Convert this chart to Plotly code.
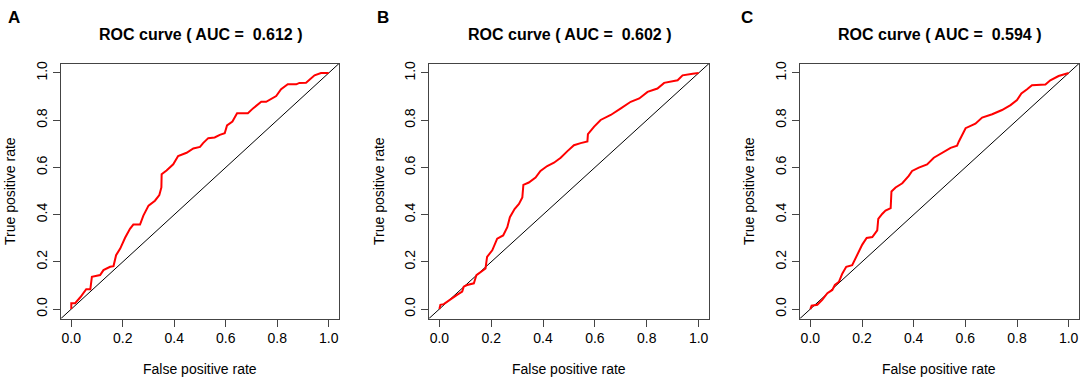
import plotly.graph_objects as go

panel_labels = ["A", "B", "C"]
auc_values = ["0.612", "0.602", "0.594"]

fpr_a = [0, 0, 0.015, 0.035, 0.058, 0.074, 0.08, 0.093, 0.112, 0.125, 0.151, 0.164, 0.174, 0.19, 0.209,
         0.228, 0.241, 0.267, 0.28, 0.3, 0.325, 0.342, 0.35, 0.351, 0.37, 0.396, 0.415, 0.448, 0.474, 0.5,
         0.512, 0.532, 0.557, 0.577, 0.596, 0.605, 0.626, 0.644, 0.686, 0.706, 0.738, 0.757, 0.777, 0.796,
         0.815, 0.841, 0.874, 0.886, 0.912, 0.932, 0.945, 0.97, 1.0]
tpr_a = [0, 0.025, 0.025, 0.05, 0.084, 0.084, 0.137, 0.14, 0.144, 0.165, 0.179, 0.182, 0.228, 0.256, 0.302,
         0.34, 0.358, 0.358, 0.396, 0.438, 0.459, 0.483, 0.515, 0.571, 0.587, 0.613, 0.648, 0.662, 0.68, 0.687,
         0.703, 0.724, 0.727, 0.738, 0.745, 0.778, 0.794, 0.829, 0.829, 0.85, 0.878, 0.878, 0.892, 0.902,
         0.931, 0.952, 0.952, 0.958, 0.959, 0.976, 0.99, 1.0, 1.0]

fpr_b = [0, 0.004, 0.017, 0.043, 0.068, 0.088, 0.094, 0.107, 0.133, 0.143, 0.159, 0.178, 0.184, 0.204, 0.223,
         0.246, 0.262, 0.272, 0.29, 0.307, 0.32, 0.324, 0.345, 0.371, 0.39, 0.416, 0.442, 0.468, 0.494, 0.519,
         0.545, 0.571, 0.573, 0.597, 0.622, 0.661, 0.7, 0.738, 0.771, 0.803, 0.841, 0.867, 0.919, 0.938, 0.977, 1.0]
tpr_b = [0, 0.018, 0.021, 0.039, 0.06, 0.074, 0.095, 0.102, 0.109, 0.144, 0.158, 0.172, 0.221, 0.249, 0.298,
         0.312, 0.347, 0.389, 0.424, 0.445, 0.473, 0.526, 0.536, 0.557, 0.585, 0.606, 0.62, 0.641, 0.669, 0.694,
         0.703, 0.71, 0.741, 0.773, 0.801, 0.822, 0.85, 0.878, 0.892, 0.92, 0.934, 0.958, 0.969, 0.99, 0.997, 1.0]

fpr_c = [0, 0.005, 0.027, 0.046, 0.066, 0.085, 0.095, 0.111, 0.124, 0.139, 0.162, 0.175, 0.188, 0.201, 0.218,
         0.24, 0.259, 0.263, 0.278, 0.291, 0.311, 0.314, 0.33, 0.356, 0.381, 0.394, 0.42, 0.452, 0.478, 0.51,
         0.543, 0.568, 0.575, 0.601, 0.639, 0.665, 0.704, 0.742, 0.775, 0.8, 0.817, 0.839, 0.858, 0.91, 0.929,
         0.961, 1.0]
tpr_c = [0, 0.014, 0.018, 0.039, 0.067, 0.081, 0.102, 0.116, 0.151, 0.179, 0.186, 0.214, 0.249, 0.273, 0.301,
         0.305, 0.333, 0.382, 0.403, 0.417, 0.428, 0.498, 0.515, 0.533, 0.564, 0.585, 0.599, 0.613, 0.641, 0.662,
         0.683, 0.692, 0.71, 0.766, 0.785, 0.811, 0.825, 0.843, 0.864, 0.885, 0.913, 0.931, 0.948, 0.951, 0.969,
         0.987, 1.0]

tick_vals = [0.0, 0.2, 0.4, 0.6, 0.8, 1.0]
tick_text = ["0.0", "0.2", "0.4", "0.6", "0.8", "1.0"]
axis_range = [-0.04, 1.04]

W, H = 1084, 384
boxes_px = [(61, 339), (429, 709), (800, 1079)]
box_top, box_bottom = 61, 318

FONT = "Liberation Sans, Arial, sans-serif"
AX_COLOR = "#444444"

fig = go.Figure()
curves = [(fpr_a, tpr_a), (fpr_b, tpr_b), (fpr_c, tpr_c)]
layout = {}
annotations = []
ylab_x = [10, 379, 749]
letter_x = [14, 383, 747]

for i, ((fx, ty), (l, r)) in enumerate(zip(curves, boxes_px)):
    xa = "x" if i == 0 else f"x{i+1}"
    ya = "y" if i == 0 else f"y{i+1}"
    fig.add_trace(go.Scatter(x=axis_range, y=axis_range, mode="lines",
                             line=dict(color="black", width=1), xaxis=xa, yaxis=ya,
                             showlegend=False, hoverinfo="skip"))
    fig.add_trace(go.Scatter(x=fx, y=ty, mode="lines",
                             line=dict(color="#ff0000", width=2), xaxis=xa, yaxis=ya,
                             showlegend=False))
    common = dict(range=axis_range, showgrid=False, zeroline=False, showline=True, mirror=True,
                  linecolor=AX_COLOR, linewidth=1, ticks="outside", ticklen=7, tickwidth=1,
                  tickcolor=AX_COLOR, tickvals=tick_vals, ticktext=tick_text,
                  tickfont=dict(family=FONT, size=14, color="black"))
    xkey = "xaxis" if i == 0 else f"xaxis{i+1}"
    ykey = "yaxis" if i == 0 else f"yaxis{i+1}"
    layout[xkey] = dict(common, domain=[l / W, r / W], anchor=ya)
    layout[ykey] = dict(common, domain=[1 - box_bottom / H, 1 - box_top / H], anchor=xa,
                        tickangle=-90)
    cx = (l + r) / 2 / W
    annotations.append(dict(text=f"<b>ROC curve ( AUC = \u00a0{auc_values[i]} )</b>", x=cx, y=1 - 32 / H,
                            xref="paper", yref="paper", showarrow=False, xanchor="center", yanchor="middle",
                            font=dict(family=FONT, size=16, color="black")))
    annotations.append(dict(text="False positive rate", x=cx, y=1 - 369 / H, xref="paper", yref="paper",
                            showarrow=False, xanchor="center", yanchor="middle",
                            font=dict(family=FONT, size=14, color="black")))
    annotations.append(dict(text="True positive rate", x=ylab_x[i] / W, y=1 - (box_top + box_bottom) / 2 / H,
                            xref="paper", yref="paper", showarrow=False, xanchor="center", yanchor="middle",
                            textangle=-90, font=dict(family=FONT, size=14, color="black")))
    annotations.append(dict(text=f"<b>{panel_labels[i]}</b>", x=letter_x[i] / W, y=1 - 15 / H,
                            xref="paper", yref="paper", showarrow=False, xanchor="center", yanchor="middle",
                            font=dict(family=FONT, size=17, color="black")))

fig.update_layout(width=W, height=H, margin=dict(l=0, r=0, t=0, b=0),
                  paper_bgcolor="white", plot_bgcolor="white", annotations=annotations, **layout)
fig.write_html("out.html", config={"displayModeBar": False},
               post_script="document.body.style.margin='0';document.body.style.overflow='hidden';")
